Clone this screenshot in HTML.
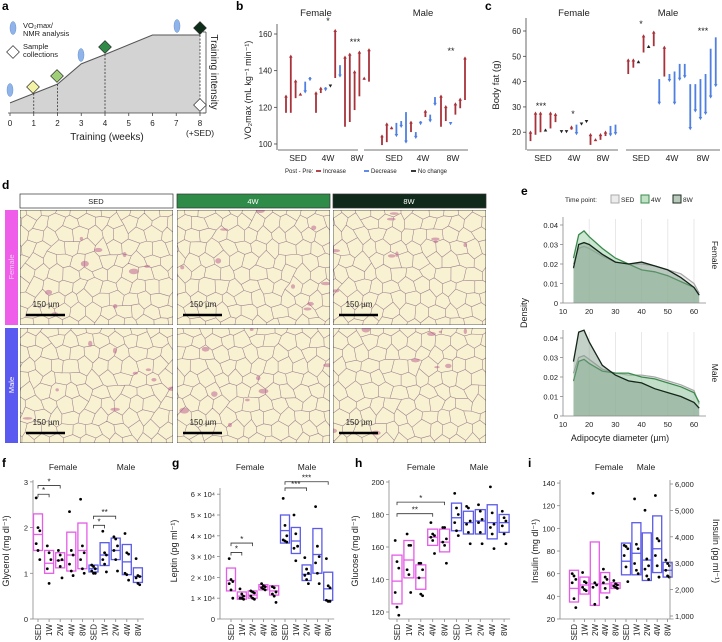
<!DOCTYPE html>
<html><head><meta charset="utf-8">
<style>
html,body{margin:0;padding:0;background:#fff;}
svg{display:block;font-family:"Liberation Sans",sans-serif;}
</style></head>
<body>
<svg id="fig" width="722" height="642" viewBox="0 0 722 642" xmlns="http://www.w3.org/2000/svg"></svg>
<script>
// ===== Panel b data (VO2max, pre/post) =====
const bGroups = ['SED','4W','8W'];
const bFemPre  = [[117,117,125,126.7,134,136.5],[117,127.8,131,132,136,143],[109.4,112,118.5,126,135,134]];
const bFemPost = [[126.7,148.5,135,127.8,127.8,134.5],[128.5,131,129,131,162.5,136.5],[148,149.6,140,150.7,136.5,152]];
const bMalPre  = [[99.4,101,108,111.5,112.5,117.4],[106.5,106.5,112.5,114.7,116,125.6],[109.4,112.5,112,116,119.5,124]];
const bMalPost = [[105,111.5,109.5,104,109,100.5],[112.5,103,110.5,118.5,112,121],[126.7,121,110.5,122.5,125,147.5]];
const bTicks = [100,120,140,160];
// ===== Panel c data (body fat) =====
const cFemPre  = [[16.5,19,20,21,21.5,24],[20.5,20.5,21,23,23.5,24.5],[15,16.5,17,18.5,22.5,23]];
const cFemPost = [[20.5,28,28,21.3,28,27.5],[19.8,19.8,22.5,19,22.8,23.8],[19.5,17.5,19.5,20.5,18.5,19]];
const cMalPre  = [[43,45.5,48,51.5,54,54],[41,42,43,44,47,47],[39,39,41,43,53,57.5]];
const cMalPost = [[49,49,48.3,58.5,54.3,60],[31,54,40,31,40.5,41.5],[21,28,25,27,33.5,38]];
const cTicks = [20,30,40,50,60];
// ===== Panel e data (density) =====
const eX = [14,16,18,20,25,30,35,40,45,50,55,60,62];
const eFemSED = [0.020,0.028,0.029,0.028,0.024,0.021,0.020,0.020,0.019,0.017,0.015,0.010,0.005];
const eFem4W  = [0.023,0.035,0.037,0.034,0.028,0.023,0.020,0.017,0.016,0.014,0.011,0.008,0.004];
const eFem8W  = [0.018,0.030,0.031,0.030,0.025,0.021,0.020,0.021,0.019,0.017,0.013,0.008,0.004];
const eMalSED = [0.022,0.030,0.031,0.029,0.024,0.022,0.021,0.021,0.020,0.018,0.016,0.013,0.006];
const eMal4W  = [0.018,0.028,0.029,0.027,0.023,0.022,0.022,0.020,0.019,0.017,0.015,0.012,0.007];
const eMal8W  = [0.028,0.043,0.044,0.038,0.026,0.021,0.018,0.017,0.014,0.012,0.010,0.007,0.004];
const eYTicks = [0,0.01,0.02,0.03,0.04];
const eXTicks = [10,20,30,40,50,60];
// ===== Box panels =====
const boxCats = ['SED','1W','2W','4W','8W','SED','1W','2W','4W','8W'];
const fLow  = [1.5,1.0,1.12,1.05,1.1,1.03,1.17,1.3,0.97,0.8];
const fMid  = [1.85,1.22,1.28,1.4,1.5,1.1,1.4,1.5,1.25,0.93];
const fHigh = [2.3,1.5,1.45,1.9,2.1,1.18,1.67,1.77,1.63,1.12];
const fPts  = [[2.65,2.0,1.93,1.65,1.5,1.3],[1.6,1.45,1.3,1.1,0.78],[1.5,1.4,1.3,1.28,1.15,0.9],[2.35,1.5,1.4,1.2,1.05,0.95],[2.62,1.6,1.45,1.3,1.1,1.0],
               [1.18,1.15,1.1,1.05,1.0,1.0],[1.92,1.45,1.4,1.3,1.2,1.03],[1.8,1.75,1.6,1.5,1.3,1.05],[1.87,1.45,1.42,1.0,0.97,0.85],[1.32,0.95,0.93,0.9,0.78,0.75]];
const fTicks = [0,1,2,3];
const gLow  = [1.35,0.95,1.0,1.4,1.15,3.65,3.15,1.85,2.2,0.9];
const gMid  = [1.85,1.1,1.15,1.55,1.35,4.25,3.75,2.15,3.1,1.45];
const gHigh = [2.45,1.3,1.35,1.65,1.6,5.0,4.4,2.6,4.35,2.25];
const gPts  = [[2.9,1.9,1.8,1.7,1.4,1.0],[1.45,1.2,1.1,1.0,1.0,0.95],[1.35,1.3,1.25,1.1,1.0,0.95],[1.7,1.6,1.55,1.5,1.45,1.4],[1.55,1.5,1.3,1.2,1.1,0.8],
               [5.8,4.5,4.0,3.8,3.75,3.7],[5.0,4.1,3.5,3.4,2.8],[2.95,2.4,2.2,2.1,1.9,1.7],[5.4,3.5,3.0,2.7,2.2,1.7],[2.9,1.6,1.5,0.9,0.85,0.85]];
const gTicks = [0,1,2,3,4,5,6];
const gTickLabels = ['0','1 × 10⁴','2 × 10⁴','3 × 10⁴','4 × 10⁴','5 × 10⁴','6 × 10⁴'];
const hLow  = [125,141,134,161,157,170,168,168,165,169];
const hMid  = [139,152,141,166,163,178,175,176,175,175];
const hHigh = [155,164,149,171,171,187,182,183,186,180];
const hPts  = [[164,151,147,132,123,118],[168,161,161,146,143,132],[150,150,146,141,131,130],[175,168,167,166,164,156],[172,172,165,163,161,150],
               [193,184,180,175,170,167],[185,184,176,174,169,162],[186,182,177,175,169,162],[197,181,174,172,168,159],[182,178,176,173,168,162]];
const hTicks = [120,140,160,180,200];
const iLow  = [35,42,32,43,47,59,59,54,61,57];
const iMid  = [47,50,51,51,50,71,78,72,82,63];
const iHigh = [63,57,88,61,52,87,105,96,111,70];
const iPts  = [[60,58,55,52,38,30],[61,53,52,48,46,45],[131,52,50,48,33],[64,57,55,52,47,39],[54,51,50,49,48,47],
               [85,84,82,76,66,53],[126,86,82,69,63,60],[116,73,67,64,58,55],[129,91,89,76,67,57],[72,69,67,63,58,57]];
const iTicks = [20,40,60,80,100,120,140];
const iRightTicks = [1000,2000,3000,4000,5000,6000];
const iRightLabels = ['1,000','2,000','3,000','4,000','5,000','6,000'];
// ===== Panel a data =====
const aWeeks = [0,1,2,3,4,6,8];
const aIntensity = [0.13,0.25,0.37,0.63,0.75,1.0,1.0];
const aXTicks = [0,1,2,3,4,5,6,7,8];

const NS='http://www.w3.org/2000/svg';
const svg=document.getElementById('fig');
function mk(p,tag,at){const e=document.createElementNS(NS,tag);for(const k in at)e.setAttribute(k,at[k]);p.appendChild(e);return e;}
function grp(name){const g=mk(svg,'g',{});


return g;}
function T(p,x,y,s,size,anchor,name,extra){const e=mk(p,'text',Object.assign({x:x,y:y,'font-size':size,'text-anchor':anchor||'start',fill:'#222'},extra||{}));e.textContent=s;


return e;}
function L(p,x1,y1,x2,y2,stroke,w,name,extra){const e=mk(p,'line',Object.assign({x1:x1,y1:y1,x2:x2,y2:y2,stroke:stroke,'stroke-width':w},extra||{}));


return e;}
function rot(x,y){return {transform:'rotate(-90 '+x+' '+y+')'};}

// panel letters
const letters=grp('panel-letters');
[['a',2,10],['b',236,10],['c',485,10],['d',2,189],['e',521,195],['f',2,467],['g',172,467],['h',355,467],['i',528,467]].forEach(function(l){
  T(letters,l[1],l[2],l[0],12,'start','panel-label-'+l[0],{'font-weight':'bold',fill:'#000'});
});

// ===== Panel a =====
(function(){
  const g=grp('panel-a-timeline');
  const ax=function(w){return 10+w*23.75;};
  const ay=function(v){return 113-v*78;};
  let d='M'+ax(0)+' 113';
  aWeeks.forEach(function(w,i){d+=' L'+ax(w)+' '+ay(aIntensity[i]);});
  d+=' L'+ax(8)+' 113 Z';
  const sh=mk(g,'path',{d:d,fill:'#d3d3d3',stroke:'none'});
  
  
  let dl='M'+ax(0)+' '+ay(aIntensity[0]);
  aWeeks.forEach(function(w,i){dl+=' L'+ax(w)+' '+ay(aIntensity[i]);});
  const ln=mk(g,'path',{d:dl,fill:'none',stroke:'#555','stroke-width':1});
  
  
  function intensAt(w){for(let i=1;i<aWeeks.length;i++){if(w<=aWeeks[i]){const t=(w-aWeeks[i-1])/(aWeeks[i]-aWeeks[i-1]);return aIntensity[i-1]+t*(aIntensity[i]-aIntensity[i-1]);}}return 1;}
  [1,2,4,8].forEach(function(w){L(g,ax(w),ay(intensAt(w)),ax(w),113,'#333',0.8,'dashed-guide-'+w,{'stroke-dasharray':'2,1.5'});});
  L(g,8,113,205,113,'#444',0.8,'x-axis');
  aXTicks.forEach(function(w){L(g,ax(w),113,ax(w),116,'#444',0.8,'x-tick');T(g,ax(w),126,String(w),8,'middle','x-tick-label');});
  T(g,200,136,'(+SED)',8.5,'middle','sed-label');
  T(g,107,140,'Training (weeks)',10,'middle','x-axis-title');
  L(g,206,32,206,113,'#444',0.8,'intensity-axis');
  L(g,203,32,206,32,'#444',0.8,'intensity-tick');L(g,203,113,206,113,'#444',0.8,'intensity-tick');
  T(g,211,72,'Training intensity',10,'middle','intensity-axis-title',{transform:'rotate(90 211 72)'});
  function ell(x,y,name){const e=mk(g,'ellipse',{cx:x,cy:y,rx:3,ry:6.5,fill:'#8fb4ea',stroke:'#6a92cf','stroke-width':0.5});
    }
  function dia(x,y,fill,name){const e=mk(g,'rect',{x:x-4.5,y:y-4.5,width:9,height:9,fill:fill,stroke:'#333','stroke-width':0.7,transform:'rotate(45 '+x+' '+y+')'});
    }
  ell(13,28,'legend-vo2-marker');
  T(g,23,28,'VO₂max/',7.5,'start','legend-vo2-text');
  T(g,23,36,'NMR analysis',7.5,'start','legend-nmr-text');
  dia(13,52,'#fff','legend-sample-marker');
  T(g,23,49,'Sample',7.5,'start','legend-sample-text');
  T(g,23,57,'collections',7.5,'start','legend-collections-text');
  ell(10,90,'vo2-week0');ell(81,55,'vo2-week3');ell(177,26,'vo2-week7');
  dia(33,87,'#f3f3a6','sample-week1');dia(57,76,'#9fd078','sample-week2');dia(105,47,'#2f8a47','sample-week4');
  dia(200,28,'#0e2e19','sample-week8');dia(200,105,'#fff','sample-sed');
})();

// arrow helper
function arrow(g,x,pre,post,ys,name){
  const y1=ys(pre),y2=ys(post);let col;
  if(Math.abs(y2-y1)<2){col='#222';}else if(y2<y1){col='#a8323a';}else{col='#4f7fe0';}
  const dir=y2<y1?-1:1;
  const ln=mk(g,'line',{x1:x,y1:y1,x2:x,y2:y2-dir*1.5,stroke:col,'stroke-width':1.8});
  
  
  const hd=mk(g,'path',{d:'M'+(x-1.8)+' '+(y2-dir*2.6)+' L'+(x+1.8)+' '+(y2-dir*2.6)+' L'+x+' '+(y2+dir*0.5)+' Z',fill:col});
  
  
}

// ===== Panel b =====
(function(){
  const g=grp('panel-b-vo2max');
  const ys=function(v){return 34+(160-v)*1.833;};
  L(g,277,24,277,150,'#444',0.8,'y-axis');
  bTicks.forEach(function(t){L(g,274,ys(t),277,ys(t),'#444',0.8,'y-tick');T(g,272,ys(t)+3,String(t),8,'end','y-tick-label');});
  T(g,251,90,'VO₂max (mL kg⁻¹ min⁻¹)',9,'middle','y-axis-title',rot(251,90));
  L(g,278,150,358,150,'#444',0.8,'x-axis-female');L(g,364,150,468,150,'#444',0.8,'x-axis-male');
  T(g,316,16,'Female',9.5,'middle','facet-female');T(g,423,16,'Male',9.5,'middle','facet-male');
  const fc=[298,328,357],mc=[394,423,453];
  bGroups.forEach(function(gr,k){
    T(g,fc[k],161,gr,8.5,'middle','x-label-female');
    T(g,mc[k],161,gr,8.5,'middle','x-label-male');
    bFemPre[k].forEach(function(p,i){arrow(g,fc[k]+(i-2.5)*4.8,p,bFemPost[k][i],ys,'female-'+gr+'-arrow');});
    bMalPre[k].forEach(function(p,i){arrow(g,mc[k]+(i-2.5)*4.8,p,bMalPost[k][i],ys,'male-'+gr+'-arrow');});
  });
  T(g,328,24,'*',9,'middle','sig-star');T(g,355,45,'***',9,'middle','sig-star');T(g,451,54,'**',9,'middle','sig-star');
  T(g,285,173,'Post - Pre:',6,'start','legend-title');
  L(g,316,171,321,171,'#a8323a',1.8,'legend-increase-swatch');T(g,323,173,'Increase',6,'start','legend-increase');
  L(g,364,171,369,171,'#4f7fe0',1.8,'legend-decrease-swatch');T(g,371,173,'Decrease',6,'start','legend-decrease');
  L(g,411,171,416,171,'#222',1.8,'legend-nochange-swatch');T(g,418,173,'No change',6,'start','legend-nochange');
})();

// ===== Panel c =====
(function(){
  const g=grp('panel-c-bodyfat');
  const ys=function(v){return 31+(60-v)*2.531;};
  L(g,526,18,526,150,'#444',0.8,'y-axis');
  cTicks.forEach(function(t){L(g,523,ys(t),526,ys(t),'#444',0.8,'y-tick');T(g,521,ys(t)+3,String(t),8,'end','y-tick-label');});
  T(g,499,85,'Body fat (g)',9.5,'middle','y-axis-title',rot(499,85));
  L(g,527,150,618,150,'#444',0.8,'x-axis-female');L(g,626,150,720,150,'#444',0.8,'x-axis-male');
  T(g,574,16,'Female',9.5,'middle','facet-female');T(g,668,16,'Male',9.5,'middle','facet-male');
  const fc=[543,574,603],mc=[641,672,703];
  bGroups.forEach(function(gr,k){
    T(g,fc[k],161,gr,8.5,'middle','x-label-female');
    T(g,mc[k],161,gr,8.5,'middle','x-label-male');
    cFemPre[k].forEach(function(p,i){arrow(g,fc[k]+(i-2.5)*5,p,cFemPost[k][i],ys,'female-'+gr+'-arrow');});
    cMalPre[k].forEach(function(p,i){arrow(g,mc[k]+(i-2.5)*5.1,p,cMalPost[k][i],ys,'male-'+gr+'-arrow');});
  });
  T(g,541,109,'***',9,'middle','sig-star');T(g,573,117,'*',9,'middle','sig-star');
  T(g,641,27,'*',9,'middle','sig-star');T(g,703,34,'***',9,'middle','sig-star');
})();

// ===== Panel d (histology) =====
(function(){
  const g=grp('panel-d-histology');
  const cols=[['SED',20,'#fff','#222'],['4W',177,'#2e8b48','#fff'],['8W',333,'#0f2a1a','#fff']];
  const rows=[['Female',210,'#ee5ee8'],['Male',328,'#5a5af0']];
  let seed=7;function rnd(){seed=(seed*1103515245+12345)%2147483648;return seed/2147483648;}
  const defs=mk(svg,'defs',{});
  cols.forEach(function(c){
    const hb=mk(g,'rect',{x:c[1],y:194,width:153,height:14,fill:c[2],stroke:'#333','stroke-width':0.7});
    
    T(g,c[1]+76,204,c[0],7.5,'middle','header-label-'+c[0],{fill:c[3]});
  });
  rows.forEach(function(r){
    const sb=mk(g,'rect',{x:5,y:r[1],width:13,height:115,fill:r[2]});
    
    T(g,14,r[1]+57,r[0],7.5,'middle','row-label-text-'+r[0],Object.assign({fill:r[0]==='Female'?'#f8c8f6':'#fff'},rot(14,r[1]+57)));
    cols.forEach(function(c,ci){
      const x0=c[1],y0=r[1],w=153,h=115;const id='clip'+r[0]+ci;
      const cp=mk(defs,'clipPath',{id:id});mk(cp,'rect',{x:x0,y:y0,width:w,height:h});
      const tg=mk(g,'g',{'clip-path':'url(#'+id+')'});
      
      mk(tg,'rect',{x:x0,y:y0,width:w,height:h,fill:'#f8f2d2'});
      // honeycomb-like cells: shared jittered vertices on a hex lattice
      const R=8.5,dx=R*1.732,dy=R*1.5;
      const V={};
      function vert(key,x,y){if(!V[key])V[key]=[x+(rnd()-0.5)*5,y+(rnd()-0.5)*5];return V[key];}
      let d='';
      for(let i=-1;i<h/dy+2;i++){for(let j=-1;j<w/dx+2;j++){
        const cx=x0+j*dx+(i%2?dx/2:0),cy=y0+i*dy;
        const pts=[];
        for(let k=0;k<6;k++){const a=Math.PI/180*(60*k-30);const vx=cx+R*Math.cos(a),vy=cy+R*Math.sin(a);
          pts.push(vert(Math.round(vx*2)+'_'+Math.round(vy*2),vx,vy));}
        d+='M'+pts.map(function(p){return p[0].toFixed(1)+' '+p[1].toFixed(1);}).join(' L')+' Z';
      }}
      mk(tg,'path',{d:d,stroke:'#9c7f8e','stroke-width':0.55,fill:'none'});
      for(let k=0;k<9;k++){mk(tg,'ellipse',{cx:x0+rnd()*w,cy:y0+rnd()*h,rx:1.5+rnd()*3.5,ry:1+rnd()*2,fill:'#b95a8c','fill-opacity':0.5});}
      mk(tg,'rect',{x:x0,y:y0,width:w,height:h,fill:'none',stroke:'#333','stroke-width':0.8});
      T(g,x0+26,y0+h-18,'150 µm',8,'middle','scale-bar-label');
      L(g,x0+6,y0+h-10,x0+45,y0+h-10,'#000',2.5,'scale-bar');
    });
  });
})();

// ===== Panel e =====
(function(){
  const g=grp('panel-e-density');
  const xs=function(v){return 563+(v-10)*2.62;};
  T(g,565,202,'Time point:',6.5,'start','legend-title');
  [['SED',621,'#ececec','#aaa'],['4W',651,'#bfe3c4','#3b8a4c'],['8W',683,'#b9c9bc','#1a2e1f']].forEach(function(l){
    const r=mk(g,'rect',{x:l[1]-10,y:195,width:8,height:8,fill:l[2],stroke:l[3],'stroke-width':1});
    
    T(g,l[1],202,l[0],6.5,'start','legend-label-'+l[0]);
  });
  function facet(base,sets,label,ly){
    const ys=function(v){return base-v*1950;};
    eXTicks.forEach(function(t){if(t>10)L(g,xs(t),base-84,xs(t),base,'#e2e2e2',0.8,'grid-line');});
    sets.forEach(function(st){
      let d='M'+xs(eX[0])+' '+base;
      eX.forEach(function(x,i){d+=' L'+xs(x).toFixed(1)+' '+ys(st[0][i]).toFixed(1);});
      d+=' L'+xs(eX[eX.length-1])+' '+base+' Z';
      const a=mk(g,'path',{d:d,fill:st[1],'fill-opacity':0.45,stroke:'none'});
      
      let dl='M'+xs(eX[0])+' '+ys(st[0][0]);
      eX.forEach(function(x,i){dl+=' L'+xs(x).toFixed(1)+' '+ys(st[0][i]).toFixed(1);});
      const l=mk(g,'path',{d:dl,fill:'none',stroke:st[2],'stroke-width':1.3});
      
    });
    L(g,563,base-86,563,base,'#888',0.8,'y-axis');
    L(g,563,base,706,base,'#888',0.8,'x-axis');
    eYTicks.forEach(function(t){L(g,560,ys(t),563,ys(t),'#888',0.8,'y-tick');T(g,558,ys(t)+3,t===0?'0':t.toFixed(2),7.5,'end','y-tick-label');});
    eXTicks.forEach(function(t){T(g,xs(t),base+11,String(t),7.5,'middle','x-tick-label');});
    T(g,712,ly,label,8.5,'middle','facet-label-'+label,{transform:'rotate(90 712 '+ly+')'});
  }
  facet(303,[[eFemSED,'#dcdcdc','#aaa','SED'],[eFem4W,'#8cc898','#3b8a4c','4W'],[eFem8W,'#7d9a84','#14261a','8W']],'Female',255);
  facet(416,[[eMalSED,'#dcdcdc','#aaa','SED'],[eMal4W,'#8cc898','#3b8a4c','4W'],[eMal8W,'#7d9a84','#14261a','8W']],'Male',373);
  T(g,527,313,'Density',9,'middle','y-axis-title',rot(527,313));
  T(g,620,441,'Adipocyte diameter (µm)',9,'middle','x-axis-title');
})();

// ===== box panels =====
function boxPanel(name,axX,x0,step,bw,ys,yTop,yBot,lows,mids,highs,pts,ticks,tickLabels,ytitle,ytx,femX,malX,brackets){
  const g=grp(name);
  L(g,axX,yTop,axX,yBot,'#888',0.8,'y-axis');
  L(g,axX,yBot,x0+step*9+6,yBot,'#888',0.8,'x-axis');
  ticks.forEach(function(t,i){L(g,axX-3,ys(t),axX,ys(t),'#888',0.8,'y-tick');T(g,axX-5,ys(t)+3,tickLabels[i],7.5,'end','y-tick-label');});
  T(g,ytx,551,ytitle,9,'middle','y-axis-title',rot(ytx,551));
  T(g,femX,470,'Female',8.5,'middle','facet-female');T(g,malX,470,'Male',8.5,'middle','facet-male');
  boxCats.forEach(function(c,i){
    const cx=x0+i*step,col=i<5?'#e45de6':'#5b5be6';
    L(g,cx,yBot,cx,yBot+3,'#888',0.8,'x-tick');
    T(g,cx+3,yBot+5,c,8,'end','x-tick-label-'+c,rot(cx+3,yBot+5));
    const r=mk(g,'rect',{x:cx-bw/2,y:ys(highs[i]),width:bw,height:ys(lows[i])-ys(highs[i]),fill:'none',stroke:col,'stroke-width':1.3});
    
    L(g,cx-bw/2,ys(mids[i]),cx+bw/2,ys(mids[i]),col,1.3,'box-median-'+c);
    pts[i].forEach(function(v,k){const dot=mk(g,'circle',{cx:cx+((k%3)-1)*1.8,cy:ys(v),r:1.4,fill:'#000'});
      });
  });
  brackets.forEach(function(b){
    const xa=x0+b[0]*step,xb=x0+b[1]*step,y=ys(b[2]);
    const p=mk(g,'path',{d:'M'+xa+' '+(y+3)+' L'+xa+' '+y+' L'+xb+' '+y+' L'+xb+' '+(y+3),fill:'none',stroke:'#333','stroke-width':0.8});
    
    T(g,(xa+xb)/2,y-1,b[3],8,'middle','sig-star');
  });
  return g;
}
boxPanel('panel-f-glycerol',33,38,11.1,9,function(v){return 619-v*45.7;},480,619,fLow,fMid,fHigh,fPts,fTicks,fTicks.map(String),'Glycerol (mg dl⁻¹)',9,63,126,
  [[0,1,2.73,'*'],[0,2,2.92,'*'],[5,6,2.05,'*'],[5,7,2.25,'**']]);
boxPanel('panel-g-leptin',220,231,10.8,9,function(v){return 619-v*20.8;},488,619,gLow,gMid,gHigh,gPts,gTicks,gTickLabels,'Leptin (pg ml⁻¹)',177,250,307,
  [[0,1,3.2,'*'],[0,2,3.65,'*'],[5,7,6.3,'***'],[5,9,6.6,'***']]);
boxPanel('panel-h-glucose',389,397,11.9,10,function(v){return 612-(v-120)*1.625;},480,619,hLow,hMid,hHigh,hPts,hTicks,hTicks.map(String),'Glucose (mg dl⁻¹)',358,421,479,
  [[0,3,180.5,'**'],[0,4,187.6,'*']]);
const gi=boxPanel('panel-i-insulin',560,574,10.4,9,function(v){return 619-(v-20)*1.133;},480,619,iLow,iMid,iHigh,iPts,iTicks,iTicks.map(String),'Insulin (mg dl⁻¹)',538,609,646,[]);
(function(){
  const yr=function(v){return 616-(v-1000)*0.0264;};
  L(gi,670,480,670,619,'#888',0.8,'right-y-axis');
  iRightTicks.forEach(function(t,i){L(gi,670,yr(t),673,yr(t),'#888',0.8,'right-y-tick');T(gi,675,yr(t)+3,iRightLabels[i],7.5,'start','right-y-tick-label');});
  T(gi,713,551,'Insulin (pg ml⁻¹)',9,'middle','right-y-axis-title',{transform:'rotate(90 713 551)'});
})();
</script>
</body></html>
